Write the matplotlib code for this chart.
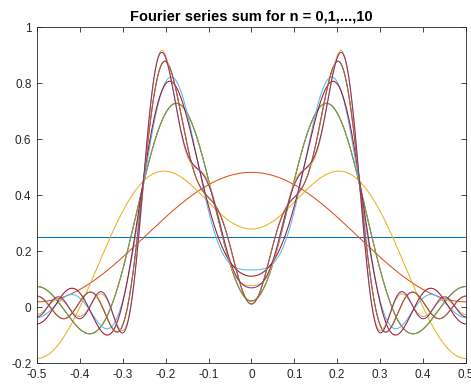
import numpy as np
import matplotlib
matplotlib.use("Agg")
import matplotlib.pyplot as plt

# Fourier cosine coefficients a_0..a_10 (period 1), estimated from the curves
coef_k = [0, 1, 2, 3, 4, 5, 6, 7, 8, 9, 10]
coef_a = [0.25, 0.2313, -0.2026, -0.2572, 0.0, 0.1111, -0.0225, -0.0992, 0.0, 0.0657, -0.0081]

# MATLAB default colour order
colors = ['#0072BD', '#D95319', '#EDB120', '#7E2F8E', '#77AC30', '#4DBEEE', '#A2142F']

xticks = [-0.5, -0.4, -0.3, -0.2, -0.1, 0, 0.1, 0.2, 0.3, 0.4, 0.5]
xticklabels = ['-0.5', '-0.4', '-0.3', '-0.2', '-0.1', '0', '0.1', '0.2', '0.3', '0.4', '0.5']
yticks = [-0.2, 0, 0.2, 0.4, 0.6, 0.8, 1]
yticklabels = ['-0.2', '0', '0.2', '0.4', '0.6', '0.8', '1']

plt.rcParams['font.family'] = ['Liberation Sans', 'DejaVu Sans']

fig = plt.figure(figsize=(4.71, 3.88), dpi=100)
ax = fig.add_axes([0.0786, 0.0644, 0.9104, 0.8656])

x = np.linspace(-0.5, 0.5, 1001)
s = np.zeros_like(x)
for n, (k, a) in enumerate(zip(coef_k, coef_a)):
    s = s + a * np.cos(2 * np.pi * k * x)
    ax.plot(x, s, color=colors[n % 7], lw=0.75)

ax.set_xlim(-0.5, 0.5)
ax.set_ylim(-0.2, 1)
ax.set_xticks(xticks)
ax.set_xticklabels(xticklabels)
ax.set_yticks(yticks)
ax.set_yticklabels(yticklabels)
ax.tick_params(direction='in', length=3.5, width=0.6, top=True, right=True,
               labelsize=8.5, colors='#262626', pad=4)
for sp in ax.spines.values():
    sp.set_color('#262626')
    sp.set_linewidth(0.6)
ax.set_title('Fourier series sum for n = 0,1,...,10', fontsize=10.5, fontweight='bold', pad=5)

fig.savefig('out.png', dpi=100)
